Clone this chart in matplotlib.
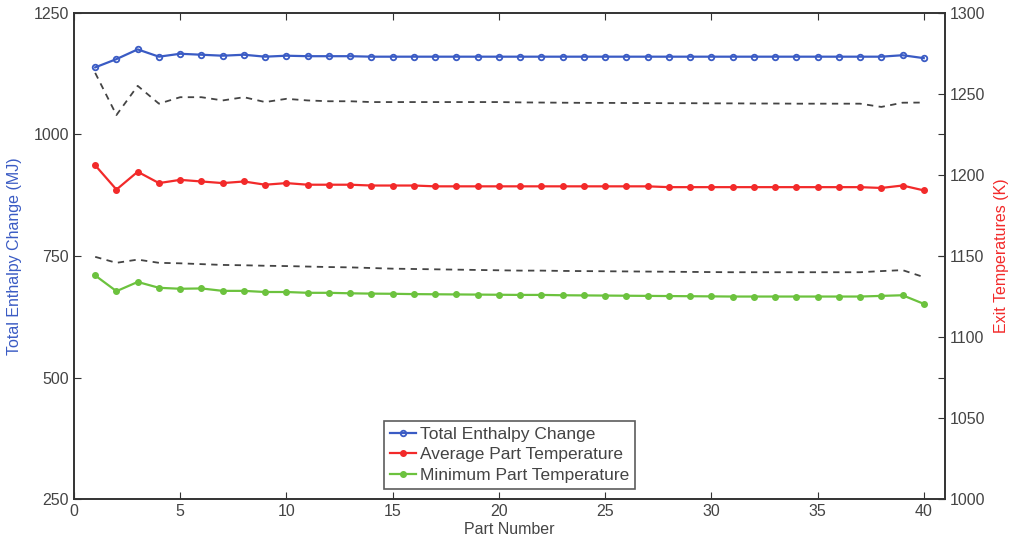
import matplotlib
matplotlib.use("Agg")
import matplotlib.pyplot as plt
import numpy as np

plt.rcParams['font.family'] = ['Liberation Sans', 'DejaVu Sans']

part_number = list(range(1, 41))

enthalpy_mj = [1138, 1155, 1175, 1160, 1166, 1164, 1162, 1164, 1160, 1162,
               1161, 1161, 1161, 1160, 1160, 1160, 1160, 1160, 1160, 1160,
               1160, 1160, 1160, 1160, 1160, 1160, 1160, 1160, 1160, 1160,
               1160, 1160, 1160, 1160, 1160, 1160, 1160, 1160, 1163, 1157]

avg_temp_k = [1206, 1191, 1202, 1195, 1197, 1196, 1195, 1196, 1194, 1195,
              1194, 1194, 1194, 1193.5, 1193.5, 1193.5, 1193, 1193, 1193, 1193,
              1193, 1193, 1193, 1193, 1193, 1193, 1193, 1192.5, 1192.5, 1192.5,
              1192.5, 1192.5, 1192.5, 1192.5, 1192.5, 1192.5, 1192.5, 1192, 1193.5, 1190.5]

min_temp_k = [1138, 1128.3, 1134, 1130.4, 1129.8, 1130, 1128.5, 1128.5, 1127.8, 1127.8,
              1127.3, 1127.3, 1127, 1126.8, 1126.7, 1126.5, 1126.4, 1126.3, 1126.2, 1126.1,
              1126, 1126, 1125.8, 1125.7, 1125.6, 1125.5, 1125.4, 1125.3, 1125.2, 1125.1,
              1125, 1125, 1125, 1125, 1125, 1125, 1125, 1125.4, 1125.8, 1120.5]

max_temp_k = [1263, 1237, 1255, 1244, 1248, 1248, 1246, 1248, 1245, 1247,
              1246, 1245.5, 1245.5, 1245, 1245, 1245, 1245, 1245, 1245, 1245,
              1244.8, 1244.7, 1244.6, 1244.5, 1244.5, 1244.4, 1244.4, 1244.3, 1244.3, 1244.2,
              1244.2, 1244.1, 1244.1, 1244, 1244, 1244, 1244, 1242, 1244.6, 1244.7]

upper_min_k = [1149.5, 1145.8, 1147.8, 1145.8, 1145.5, 1145, 1144.5, 1144.3, 1144, 1143.8,
               1143.5, 1143.2, 1143, 1142.6, 1142.2, 1142, 1141.8, 1141.6, 1141.4, 1141.2,
               1141, 1141, 1140.8, 1140.7, 1140.6, 1140.5, 1140.4, 1140.3, 1140.2, 1140.1,
               1140, 1140, 1140, 1140, 1140, 1140, 1140, 1140.7, 1141.3, 1137]

left_ticks = [250, 500, 750, 1000, 1250]
right_ticks = [1000, 1050, 1100, 1150, 1200, 1250, 1300]
x_ticks = [0, 5, 10, 15, 20, 25, 30, 35, 40]

blue = '#3a5bc4'
red = '#f22a2a'
green = '#6cc23e'
tick_col = '#444444'

fig = plt.figure(figsize=(10.2, 5.5), dpi=100)
ax1 = fig.add_axes([0.0725, 0.0925, 0.854, 0.884])
ax2 = ax1.twinx()

l1, = ax1.plot(part_number, enthalpy_mj, color=blue, marker='o', markersize=4,
               markerfacecolor='none', markeredgewidth=1.3, linewidth=1.6,
               label='Total Enthalpy Change', zorder=3)
ax2.plot(part_number, max_temp_k, color='#444444', linestyle=(0, (3.5, 3)), linewidth=1.3)
ax2.plot(part_number, upper_min_k, color='#444444', linestyle=(0, (3.5, 3)), linewidth=1.3)
l2, = ax2.plot(part_number, avg_temp_k, color=red, marker='o', markersize=4,
               linewidth=1.6, label='Average Part Temperature')
l3, = ax2.plot(part_number, min_temp_k, color=green, marker='o', markersize=4,
               linewidth=1.6, label='Minimum Part Temperature')

ax1.set_xlim(0, 41)
ax1.set_ylim(250, 1250)
ax2.set_ylim(1000, 1300)
ax1.set_xticks(x_ticks)
ax1.set_yticks(left_ticks)
ax2.set_yticks(right_ticks)

for ax in (ax1, ax2):
    for s in ax.spines.values():
        s.set_color('#333333')
        s.set_linewidth(1.2)

ax1.tick_params(axis='both', direction='in', length=5, labelsize=11.5,
                labelcolor=tick_col, color='#333333', top=True)
ax1.tick_params(axis='y', right=True)
ax2.tick_params(axis='y', direction='in', length=5, labelsize=11.5,
                labelcolor=tick_col, color='#333333')

ax1.set_xlabel('Part Number', fontsize=11.5, color=tick_col, labelpad=2)
ax1.set_ylabel('Total Enthalpy Change (MJ)', fontsize=11.5, color=blue, labelpad=8)
ax2.set_ylabel('Exit Temperatures (K)', fontsize=11.5, color=red, labelpad=6)

leg = ax2.legend(handles=[l1, l2, l3], loc='lower center', bbox_to_anchor=(0.5, 0.0),
                 fontsize=12.5, frameon=True, fancybox=False, handlelength=1.5,
                 handletextpad=0.2, borderpad=0.35, labelspacing=0.3, borderaxespad=0.6)
leg.get_frame().set_edgecolor('#333333')
leg.get_frame().set_linewidth(1.2)
for t in leg.get_texts():
    t.set_color(tick_col)

fig.savefig('out.png', dpi=100, facecolor='white')
